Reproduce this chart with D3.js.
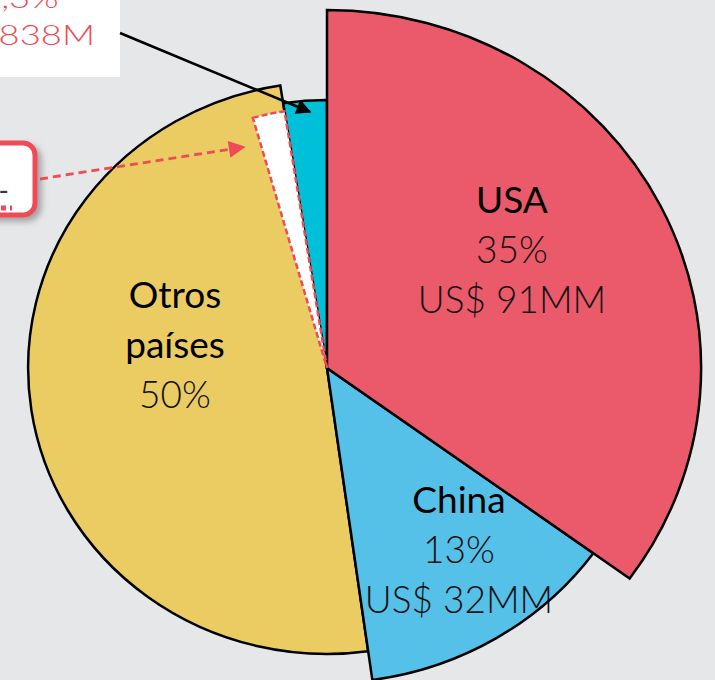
<!DOCTYPE html>
<html>
<head>
<meta charset="utf-8">
<script src="https://cdn.jsdelivr.net/npm/d3@7"></script>
<style>
  html, body { margin: 0; padding: 0; background: #e6e7e9; overflow: hidden; }
  svg { display: block; }
  text { font-family: Lato, "Open Sans", sans-serif; }
</style>
</head>
<body>
<div id="chart"></div>
<script>
// data
var countries = ["USA", "China", "Otros países", "Otro"];
var shares = [35, 12.8, 49.7, 2.5];          // share of the circle as drawn (%)
var pctLabels = ["35%", "13%", "50%", "0,3%"];
var amountLabels = ["US$ 91MM", "US$ 32MM", "", "US$ 838M"];
var highlightShare = 1.9;                     // white wedge inside "Otros países"

// styles
var colors = ["#eb5a6b", "#55c0e8", "#ebcc63", "#00bfd8"];
var accent = "#ef4b56";
var width = 715, height = 680;
var cx = 327, cy = 368, stretch = 1.045;

var color = d3.scaleOrdinal().domain(countries).range(colors);
var radius = d3.scaleOrdinal().domain(countries).range([358, 315, 286, 268]);

var svg = d3.select("#chart")
  .append("svg")
  .attr("width", width)
  .attr("height", height);

var defs = svg.append("defs");
defs.append("filter")
  .attr("id", "shadow")
  .attr("x", "-50%").attr("y", "-50%").attr("width", "200%").attr("height", "200%")
  .append("feDropShadow")
  .attr("dx", 4).attr("dy", 4).attr("stdDeviation", 3)
  .attr("flood-color", "#666").attr("flood-opacity", 0.55);

function marker(id, fill) {
  defs.append("marker")
    .attr("id", id)
    .attr("viewBox", "0 0 10 10")
    .attr("refX", 9).attr("refY", 5)
    .attr("markerWidth", 7).attr("markerHeight", 6)
    .attr("markerUnits", "strokeWidth")
    .attr("orient", "auto")
    .append("path")
    .attr("d", "M0,0 L10,5 L0,10 Z")
    .attr("fill", fill);
}
marker("headBlack", "#000");
marker("headRed", accent);

var pie = d3.pie().sort(null).value(function(d) { return d.share; });
var rows = countries.map(function(c, i) {
  return {name: c, share: shares[i], pct: pctLabels[i], amount: amountLabels[i]};
});
var arcs = pie(rows);

var arc = d3.arc()
  .innerRadius(0)
  .outerRadius(function(d) { return radius(d.data.name); });

var g = svg.append("g")
  .attr("transform", "translate(" + cx + "," + cy + ") scale(" + stretch + ",1)");

// draw order: others first, then small slices, then China and USA on top
var order = ["Otros países", "Otro", "China", "USA"];
g.selectAll(".slice")
  .data(arcs.slice().sort(function(a, b) {
    return order.indexOf(a.data.name) - order.indexOf(b.data.name);
  }))
  .enter()
  .append("path")
  .attr("class", "slice")
  .attr("d", arc)
  .attr("fill", function(d) { return color(d.data.name); })
  .attr("stroke", "#000")
  .attr("stroke-width", 2.5)
  .attr("stroke-linejoin", "miter")
  .attr("vector-effect", "non-scaling-stroke");

// highlighted wedge at the end of "Otros países"
var otros = arcs[2];
g.append("path")
  .attr("d", d3.arc()({
    innerRadius: 0,
    outerRadius: 260,
    startAngle: otros.endAngle - highlightShare / 100 * 2 * Math.PI,
    endAngle: otros.endAngle
  }))
  .attr("fill", "#fff")
  .attr("stroke", accent)
  .attr("stroke-width", 2.5)
  .attr("stroke-dasharray", "6 3")
  .attr("vector-effect", "non-scaling-stroke");

// slice labels
var labelPos = {"USA": [512, 213], "China": [459, 513], "Otros países": [175, 308]};
var lineH = 50;
arcs.forEach(function(d) {
  var p = labelPos[d.data.name];
  if (!p) return;
  var lines = [];
  if (d.data.name === "Otros países") {
    lines.push({t: "Otros", w: 400}, {t: "países", w: 400});
  } else {
    lines.push({t: d.data.name, w: 400});
  }
  lines.push({t: d.data.pct, w: 300});
  if (d.data.amount) lines.push({t: d.data.amount, w: 300});
  var t = svg.append("text")
    .attr("text-anchor", "middle")
    .attr("font-size", "37px");
  lines.forEach(function(l, i) {
    t.append("tspan")
      .attr("x", p[0])
      .attr("y", p[1] + i * lineH)
      .attr("font-weight", l.w)
      .attr("fill", l.w === 400 ? "#000" : "#111")
      .text(l.t);
  });
});

// top-left callout for the small cyan slice
svg.append("rect")
  .attr("x", -10).attr("y", -10)
  .attr("width", 130).attr("height", 87)
  .attr("fill", "#fff");
var small = arcs[3].data;
var tl = svg.append("g")
  .attr("transform", "translate(95,0) scale(1.3,1)")
  .attr("fill", accent)
  .attr("font-size", "28px")
  .attr("font-weight", 300)
  .attr("text-anchor", "end");
tl.append("text").attr("x", -28).attr("y", 8).text(small.pct);
tl.append("text").attr("x", 0).attr("y", 45).text(small.amount);

svg.append("line")
  .attr("x1", 120).attr("y1", 33)
  .attr("x2", 310).attr("y2", 112)
  .attr("stroke", "#000")
  .attr("stroke-width", 2.5)
  .attr("marker-end", "url(#headBlack)");

// left callout box for the highlighted wedge
svg.append("rect")
  .attr("x", -40).attr("y", 143)
  .attr("width", 75).attr("height", 72)
  .attr("rx", 12)
  .attr("fill", "#fff")
  .attr("stroke", accent)
  .attr("stroke-width", 5)
  .attr("filter", "url(#shadow)");
svg.append("text")
  .attr("x", 9).attr("y", 201)
  .attr("text-anchor", "end")
  .attr("font-size", "28px")
  .attr("fill", "#3a3a3a")
  .text("-");
svg.append("line")
  .attr("x1", -17).attr("y1", 208)
  .attr("x2", 12).attr("y2", 208)
  .attr("stroke", accent)
  .attr("stroke-width", 5)
  .attr("stroke-dasharray", "5 4");

svg.append("line")
  .attr("x1", 40).attr("y1", 179)
  .attr("x2", 244).attr("y2", 147)
  .attr("stroke", accent)
  .attr("stroke-width", 2.8)
  .attr("stroke-dasharray", "8 5")
  .attr("marker-end", "url(#headRed)");
</script>
</body>
</html>
